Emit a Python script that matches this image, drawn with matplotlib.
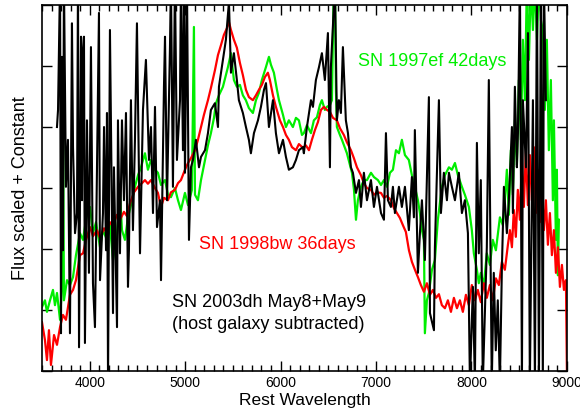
import matplotlib
matplotlib.use("Agg")
import matplotlib.pyplot as plt
from matplotlib.ticker import MultipleLocator, NullFormatter

plt.rcParams['font.family'] = ['Liberation Sans', 'DejaVu Sans']

# SN 1998bw, 36 days (red)
wl_98bw = [3500, 3531, 3552, 3573, 3594, 3626, 3657, 3689, 3720, 3751, 3793, 3825, 3856, 3898,
           3930, 3961, 4003, 4034, 4076, 4108, 4150, 4181, 4212, 4244, 4285, 4317, 4359, 4390,
           4422, 4464, 4506, 4548, 4579, 4610, 4642, 4684, 4715, 4747, 4778, 4820, 4851, 4893,
           4925, 4956, 4998, 5030, 5061, 5103, 5134, 5166, 5197, 5239, 5270, 5312, 5344, 5375,
           5406, 5438, 5459, 5480, 5511, 5542, 5574, 5605, 5637, 5668, 5710, 5742, 5773, 5804,
           5836, 5867, 5888, 5920, 5951, 5993, 6025, 6056, 6087, 6119, 6161, 6192, 6234, 6265,
           6297, 6328, 6360, 6391, 6423, 6454, 6486, 6517, 6549, 6590, 6622, 6663, 6695, 6737,
           6768, 6800, 6842, 6873, 6905, 6947, 6978, 7010, 7052, 7083, 7115, 7156, 7188, 7219,
           7250, 7282, 7313, 7345, 7376, 7408, 7439, 7470, 7502, 7533, 7565, 7596, 7628, 7659,
           7690, 7722, 7753, 7785, 7816, 7848, 7879, 7910, 7942, 7973, 8004, 8036, 8067, 8098,
           8130, 8161, 8193, 8224, 8256, 8287, 8319, 8350, 8382, 8403, 8424, 8444, 8465, 8486,
           8507, 8528, 8549, 8570, 8591, 8612, 8633, 8654, 8675, 8696, 8717, 8738, 8759, 8780,
           8801, 8822, 8843, 8864, 8885, 8906, 8927, 8948, 8969, 8990, 9000]
fx_98bw = [0.80, 0.51, 0.18, 0.67, 0.10, 0.59, 0.43, 0.72, 0.92, 0.84, 1.25, 1.33, 1.49, 1.90,
           1.93, 2.15, 2.36, 2.21, 2.31, 2.18, 2.34, 2.26, 2.44, 2.38, 2.56, 2.48, 2.61, 2.54,
           2.75, 2.93, 3.02, 3.08, 3.13, 3.07, 3.13, 3.00, 2.92, 2.69, 2.84, 2.80, 2.93, 2.97,
           3.08, 3.13, 3.30, 3.41, 3.49, 3.62, 3.79, 4.00, 4.20, 4.44, 4.64, 4.93, 5.18, 5.34,
           5.51, 5.62, 5.72, 5.59, 5.43, 5.30, 5.05, 4.85, 4.61, 4.49, 4.44, 4.52, 4.61, 4.69,
           4.82, 4.89, 4.77, 4.52, 4.33, 4.11, 4.00, 3.87, 3.79, 3.67, 3.62, 3.72, 3.66, 3.70,
           3.62, 3.79, 3.95, 4.08, 4.28, 4.33, 4.28, 4.25, 4.15, 4.11, 3.98, 3.87, 3.75, 3.62,
           3.49, 3.34, 3.21, 3.08, 3.00, 2.97, 2.89, 2.93, 2.92, 2.84, 2.87, 2.80, 2.67, 2.59,
           2.51, 2.39, 2.28, 1.98, 1.79, 1.66, 1.54, 1.41, 1.30, 1.44, 1.25, 1.33, 1.20, 1.26,
           1.08, 1.03, 1.16, 0.97, 1.20, 1.03, 1.16, 0.97, 1.25, 1.08, 1.41, 1.16, 1.33, 1.13,
           1.44, 1.20, 1.41, 1.16, 1.52, 1.41, 1.79, 1.66, 2.07, 2.31, 2.03, 2.64, 2.20, 2.97,
           2.48, 3.46, 2.69, 3.62, 2.72, 3.54, 2.80, 3.67, 2.59, 3.30, 2.44, 3.02, 2.31, 2.80,
           2.07, 2.59, 1.90, 2.31, 1.61, 2.03, 1.38, 1.74, 1.33, 1.49, 0.0]

# SN 1997ef, 42 days (green)
wl_97ef = [3500, 3531, 3552, 3584, 3615, 3636, 3657, 3689, 3710, 3720, 3730, 3762, 3793, 3825,
           3856, 3898, 3930, 3971, 4003, 4034, 4066, 4108, 4139, 4181, 4212, 4244, 4285, 4317,
           4338, 4369, 4401, 4432, 4474, 4506, 4537, 4579, 4610, 4642, 4684, 4715, 4747, 4789,
           4820, 4851, 4893, 4925, 4956, 4998, 5030, 5071, 5092, 5103, 5134, 5166, 5208, 5239,
           5270, 5302, 5323, 5354, 5396, 5427, 5448, 5480, 5511, 5542, 5574, 5605, 5636, 5668,
           5710, 5742, 5773, 5804, 5846, 5878, 5899, 5930, 5962, 5983, 6025, 6056, 6087, 6129,
           6161, 6192, 6224, 6244, 6276, 6318, 6349, 6381, 6412, 6433, 6464, 6485, 6517, 6538,
           6559, 6569, 6580, 6590, 6622, 6643, 6674, 6695, 6727, 6748, 6769, 6790, 6810, 6842,
           6873, 6905, 6947, 6978, 7020, 7052, 7083, 7115, 7146, 7177, 7209, 7240, 7271, 7303,
           7344, 7376, 7407, 7439, 7460, 7481, 7502, 7512, 7533, 7554, 7586, 7617, 7648, 7690,
           7722, 7764, 7795, 7827, 7858, 7900, 7931, 7973, 8004, 8025, 8057, 8077, 8098, 8130,
           8161, 8193, 8224, 8256, 8298, 8329, 8350, 8371, 8392, 8413, 8434, 8455, 8476, 8497,
           8518, 8539, 8560, 8581, 8602, 8623, 8644, 8665, 8686, 8707, 8728, 8748, 8769, 8790,
           8811, 8832, 8853, 8864, 8885, 8895, 8906, 8916]
fx_97ef = [1.05, 1.16, 0.97, 1.16, 1.33, 1.08, 1.28, 0.84, 1.41, 4.52, 1.16, 1.49, 1.41, 1.54,
           1.90, 2.26, 2.15, 2.59, 2.69, 2.26, 2.44, 2.03, 2.31, 2.15, 2.39, 1.82, 2.23, 2.92,
           2.31, 2.15, 2.52, 2.72, 3.02, 3.21, 3.34, 3.57, 3.30, 3.46, 3.30, 3.25, 3.05, 3.13,
           2.89, 2.85, 3.00, 2.80, 2.64, 2.92, 2.72, 2.97, 5.64, 2.89, 2.80, 3.13, 3.46, 3.70,
           3.90, 4.15, 4.39, 4.52, 4.66, 4.85, 4.98, 5.21, 4.77, 4.66, 4.69, 4.52, 4.44, 4.31,
           4.23, 4.44, 4.56, 4.77, 4.98, 5.15, 5.02, 4.89, 4.61, 4.44, 4.20, 4.00, 4.11, 4.00,
           4.15, 4.11, 3.87, 3.90, 4.03, 3.90, 4.11, 4.16, 4.36, 4.44, 4.28, 4.33, 4.36, 4.44,
           6.50, 6.50, 4.61, 4.00, 3.87, 3.79, 3.66, 3.57, 3.38, 3.25, 2.97, 2.48, 2.80, 3.02,
           3.13, 3.13, 3.25, 3.18, 3.13, 3.05, 3.13, 3.02, 3.25, 3.30, 3.62, 3.57, 3.79, 3.54,
           3.46, 3.21, 3.02, 2.80, 2.59, 2.31, 2.15, 0.62, 1.16, 1.28, 1.66, 1.82, 2.48, 3.02,
           3.21, 3.34, 3.30, 3.41, 3.21, 3.02, 2.89, 2.69, 2.31, 1.93, 1.66, 1.44, 1.61, 1.41,
           1.93, 1.74, 2.15, 1.98, 2.52, 2.39, 2.80, 3.30, 2.56, 3.62, 2.89, 4.11, 3.38, 4.77,
           3.79, 5.43, 4.44, 6.40, 5.10, 6.40, 5.59, 6.40, 5.43, 6.40, 5.75, 5.59, 4.28, 5.43,
           3.62, 4.77, 2.80, 4.11, 2.15, 3.30, 1.57, 2.48]

# SN 2003dh, May8+May9, host subtracted (black)
wl_03dh = [3657, 3668, 3689, 3699, 3710, 3720, 3730, 3751, 3772, 3793, 3814, 3825, 3846, 3867,
           3877, 3888, 3909, 3919, 3930, 3940, 3950, 3971, 3992, 4013, 4034, 4055, 4076, 4097,
           4108, 4139, 4150, 4171, 4181, 4192, 4212, 4244, 4254, 4286, 4296, 4317, 4338, 4359,
           4380, 4401, 4411, 4432, 4453, 4474, 4495, 4527, 4558, 4589, 4621, 4642, 4663, 4684,
           4705, 4736, 4747, 4778, 4789, 4810, 4841, 4851, 4872, 4893, 4914, 4946, 4956, 4977,
           4988, 4998, 5019, 5040, 5061, 5082, 5113, 5145, 5166, 5208, 5239, 5270, 5312, 5344,
           5354, 5396, 5427, 5459, 5480, 5511, 5542, 5563, 5605, 5637, 5668, 5689, 5721, 5763,
           5794, 5826, 5847, 5878, 5920, 5951, 5983, 6025, 6056, 6087, 6129, 6161, 6192, 6234,
           6244, 6276, 6318, 6339, 6370, 6402, 6433, 6464, 6496, 6517, 6527, 6548, 6569, 6590,
           6611, 6632, 6653, 6684, 6706, 6737, 6758, 6790, 6821, 6842, 6873, 6905, 6947, 6978,
           7010, 7052, 7083, 7104, 7125, 7156, 7177, 7198, 7240, 7271, 7303, 7344, 7376, 7397,
           7407, 7439, 7460, 7481, 7512, 7554, 7565, 7607, 7617, 7659, 7680, 7711, 7743, 7764,
           7795, 7827, 7868, 7900, 7931, 7963, 7984, 8015, 8036, 8057, 8077, 8098, 8119, 8161,
           8182, 8213, 8234, 8255, 8276, 8298, 8319, 8340, 8371, 8392, 8424, 8434, 8455, 8476,
           8487, 8508, 8529, 8539, 8571, 8592, 8612, 8644, 8665, 8686, 8707, 8728, 8748, 8759,
           8780]
fx_03dh = [4.00, 4.28, 6.40, 0.62, 5.15, 1.98, 6.40, 3.02, 3.79, 0.62, 5.70, 3.67, 2.26, 2.59,
           6.40, 0.39, 5.48, 2.80, 5.26, 5.48, 0.46, 4.11, 1.61, 5.31, 1.44, 0.72, 3.34, 5.87,
           1.49, 2.59, 4.00, 1.98, 4.23, -0.20, 5.59, 0.95, 3.34, 0.72, 4.11, 1.93, 4.11, 2.80,
           4.23, 1.38, 1.98, 4.44, 2.31, 3.79, 5.70, 1.93, 4.28, 5.10, 3.46, 4.00, 2.59, 4.33,
           2.36, 2.80, 1.49, 4.66, 5.48, 2.80, 5.31, 6.40, 3.02, 6.40, 3.46, 4.44, 6.40, 3.62,
           6.40, 3.25, 6.40, 2.15, 3.34, 3.46, 3.79, 3.34, 3.51, 3.62, 3.90, 4.28, 4.39, 4.00,
           4.66, 5.10, 5.43, 6.05, 4.89, 5.21, 4.77, 4.44, 4.23, 4.00, 3.79, 3.57, 3.90, 4.11,
           4.33, 4.61, 4.72, 4.00, 4.44, 3.90, 3.57, 3.79, 3.51, 3.30, 3.34, 3.46, 3.62, 3.67,
           3.57, 4.00, 4.44, 4.33, 4.77, 4.98, 5.21, 4.77, 5.54, 3.34, 4.98, 5.64, 6.40, 4.11,
           4.44, 4.23, 5.31, 4.11, 3.90, 3.34, 3.25, 2.92, 3.13, 2.69, 3.25, 2.80, 3.13, 2.69,
           3.02, 2.59, 2.48, 3.90, 2.80, 2.69, 3.02, 2.59, 3.02, 2.69, 3.02, 2.31, 3.18, 2.52,
           3.95, 1.61, 2.26, 2.80, 1.82, 4.49, 0.95, 0.67, 2.03, 4.44, 2.59, 3.25, 2.80, 3.25,
           3.02, 2.80, 3.25, 2.59, 2.80, 2.26, -0.20, 1.38, -0.20, 3.74, 1.93, 3.13, -0.20, 2.03,
           4.77, -0.20, 1.61, 0.34, 1.16, -0.20, 1.70, 3.02, 2.26, 2.80, 4.00, 2.59, 4.66, 3.34,
           3.90, 6.40, -0.20, 4.44, 3.34, 5.54, -0.20, 4.44, -0.20, 6.40, -0.20, 6.40, -0.20, 6.40,
           4.44]

fig = plt.figure(figsize=(5.8, 4.16), dpi=100)
ax = fig.add_axes([0.0724, 0.108, 0.905, 0.880])

ax.plot(wl_97ef, fx_97ef, color='#00ee00', lw=1.6)
ax.plot(wl_98bw, fx_98bw, color='#ff0000', lw=1.6)
ax.plot(wl_03dh, fx_03dh, color='black', lw=1.5)

ax.set_xlim(3500, 9000)
ax.set_ylim(0, 6)
ax.xaxis.set_major_locator(MultipleLocator(1000))
ax.xaxis.set_minor_locator(MultipleLocator(100))
ax.yaxis.set_major_locator(MultipleLocator(1))
ax.yaxis.set_major_formatter(NullFormatter())
ax.tick_params(which='both', direction='in', top=True, right=True, width=1)
ax.tick_params(which='major', length=7, labelsize=10)
ax.tick_params(which='minor', length=4)
for s in ax.spines.values():
    s.set_linewidth(1.2)

ax.set_xlabel('Rest Wavelength', fontsize=12.5, labelpad=2)
ax.set_ylabel('Flux scaled + Constant', fontsize=13, labelpad=6)

ax.text(6810, 5.07, 'SN 1997ef 42days', color='#00ee00', fontsize=13, va='center')
ax.text(5145, 2.07, 'SN 1998bw 36days', color='red', fontsize=13, va='center')
ax.text(4862, 1.13, 'SN 2003dh May8+May9', color='black', fontsize=13, va='center')
ax.text(4862, 0.76, '(host galaxy subtracted)', color='black', fontsize=13, va='center')

plt.savefig('out.png', dpi=100)
